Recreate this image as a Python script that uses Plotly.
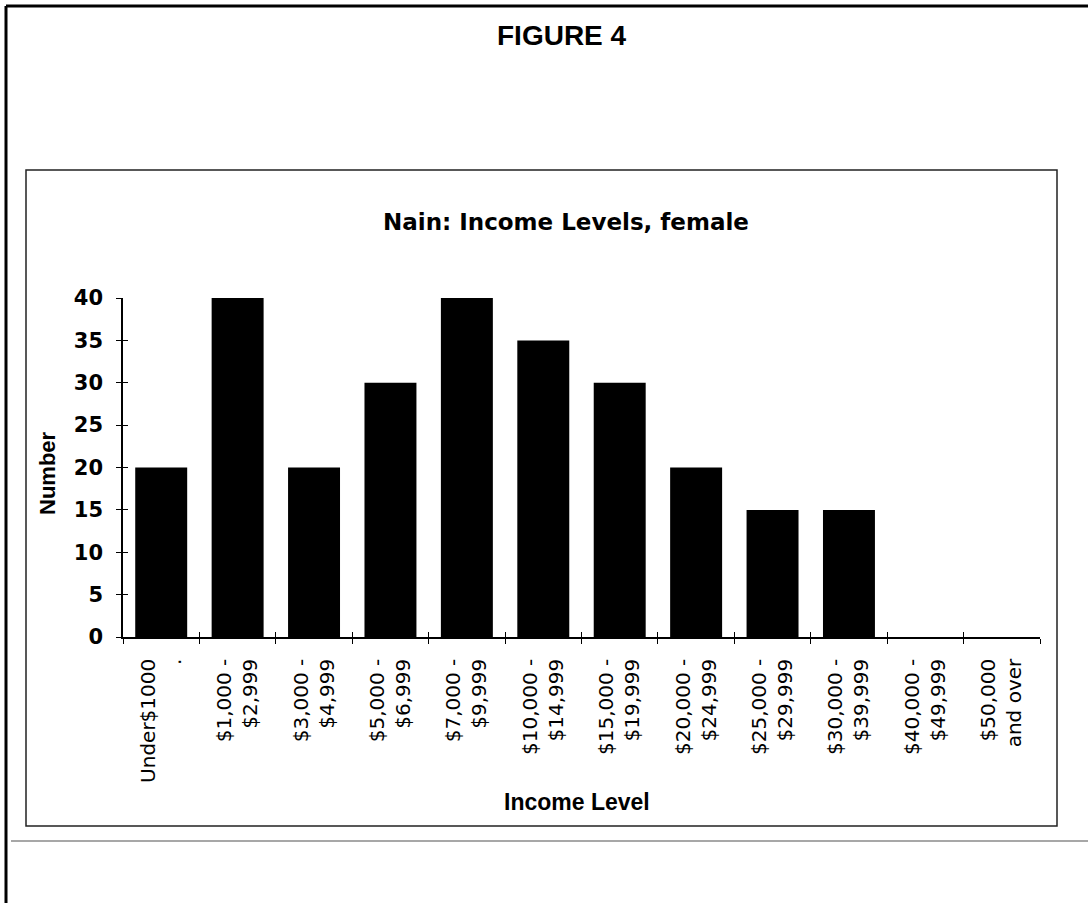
import plotly.graph_objects as go

# Income brackets (two-line labels) and counts of women in each
categories = [
    "Under$1000<br>.",
    "$1,000 -<br>$2,999",
    "$3,000 -<br>$4,999",
    "$5,000 -<br>$6,999",
    "$7,000 -<br>$9,999",
    "$10,000 -<br>$14,999",
    "$15,000 -<br>$19,999",
    "$20,000 -<br>$24,999",
    "$25,000 -<br>$29,999",
    "$30,000 -<br>$39,999",
    "$40,000 -<br>$49,999",
    "$50,000<br>and over",
]
counts = [20, 40, 20, 30, 40, 35, 30, 20, 15, 15, 0, 0]
y_ticks = [0, 5, 10, 15, 20, 25, 30, 35, 40]

# Page and plot-area geometry in pixels
FIG_W, FIG_H = 1088, 903
PL, PR, PT, PB = 123, 1040, 298, 637
PW, PH = PR - PL, PB - PT


def px(x):
    return (x - PL) / PW


def py(y):
    return 1 - (y - PT) / PH


fig = go.Figure()
fig.add_trace(go.Bar(
    x=categories, y=counts,
    marker=dict(color="black", line=dict(width=0)),
    showlegend=False, hoverinfo="x+y",
))
# empty trace so the overlaid axes (inner halves of the ticks) are drawn
fig.add_trace(go.Scatter(x=[], y=[], xaxis="x2", yaxis="y2", showlegend=False))

tick_font_x = dict(family="DejaVu Sans", size=20, color="black")
tick_font_y = dict(family="DejaVu Sans", size=21, color="black", weight="bold")

fig.update_layout(
    width=FIG_W, height=FIG_H, autosize=False,
    margin=dict(l=PL, r=FIG_W - PR, t=PT, b=FIG_H - PB, pad=0),
    paper_bgcolor="white", plot_bgcolor="white",
    bargap=0.32,
    xaxis=dict(
        type="category", tickson="boundaries",
        ticks="outside", ticklen=5, tickwidth=1.3, tickcolor="black",
        tickangle=-90, tickfont=tick_font_x, ticklabelstandoff=12,
        showline=True, linecolor="black", linewidth=1.5,
        showgrid=False, zeroline=False, automargin=False,
    ),
    yaxis=dict(
        range=[0, 40], tickvals=y_ticks,
        ticks="outside", ticklen=5, tickwidth=1.3, tickcolor="black",
        tickfont=tick_font_y, ticklabelstandoff=9,
        showline=True, linecolor="black", linewidth=1.5,
        showgrid=False, zeroline=False, automargin=False,
    ),
    xaxis2=dict(
        overlaying="x", anchor="y", range=[-0.5, 11.5],
        tickvals=[i - 0.5 for i in range(13)],
        ticks="inside", ticklen=5, tickwidth=1.3, tickcolor="black",
        showticklabels=False, showline=False, showgrid=False, zeroline=False,
    ),
    yaxis2=dict(
        overlaying="y", anchor="x", side="left", range=[0, 40], tickvals=y_ticks,
        ticks="inside", ticklen=5, tickwidth=1.3, tickcolor="black",
        showticklabels=False, showline=False, showgrid=False, zeroline=False,
    ),
)

shapes = [
    # page frame: top and left rules
    dict(type="line", xref="paper", yref="paper",
         x0=px(6), x1=px(1088), y0=py(6), y1=py(6),
         line=dict(color="black", width=3)),
    dict(type="line", xref="paper", yref="paper",
         x0=px(6), x1=px(6), y0=py(6), y1=py(903),
         line=dict(color="black", width=3)),
    # chart box
    dict(type="rect", xref="paper", yref="paper",
         x0=px(26), x1=px(1057), y0=py(170), y1=py(826),
         line=dict(color="#222222", width=1.5), fillcolor="rgba(0,0,0,0)"),
    # light rule under the chart
    dict(type="line", xref="paper", yref="paper",
         x0=px(11), x1=px(1088), y0=py(841), y1=py(841),
         line=dict(color="#8a8a8a", width=1.5)),
]

annotations = [
    dict(text="FIGURE 4", xref="paper", yref="paper", x=px(562), y=py(35),
         xanchor="center", yanchor="middle", showarrow=False,
         font=dict(family="Liberation Sans, Arial", size=28, color="black", weight="bold")),
    dict(text="Nain: Income Levels, female", xref="paper", yref="paper",
         x=px(566), y=py(222), xanchor="center", yanchor="middle", showarrow=False,
         font=dict(family="DejaVu Sans", size=23, color="black", weight="bold")),
    dict(text="Number", xref="paper", yref="paper", x=px(47), y=py(473),
         xanchor="center", yanchor="middle", textangle=-90, showarrow=False,
         font=dict(family="Liberation Sans, Arial", size=22, color="black", weight="bold")),
    dict(text="Income Level", xref="paper", yref="paper", x=px(577), y=py(802),
         xanchor="center", yanchor="middle", showarrow=False,
         font=dict(family="Liberation Sans, Arial", size=23, color="black", weight="bold")),
]

fig.update_layout(shapes=shapes, annotations=annotations)

fig.write_html("out.html", config=dict(displayModeBar=False))
